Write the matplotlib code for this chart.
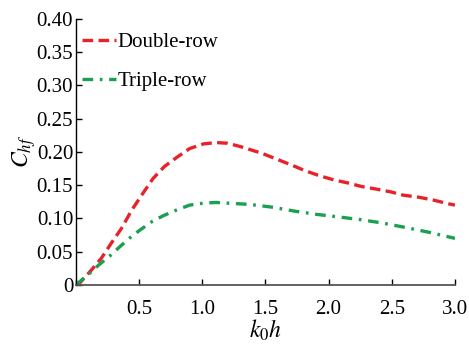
import matplotlib
matplotlib.use('Agg')
import matplotlib.pyplot as plt
import numpy as np

plt.rcParams['font.family'] = 'Liberation Serif'
plt.rcParams['mathtext.fontset'] = 'stix'

# values
x_double = [0.0, 0.03, 0.12, 0.2, 0.28, 0.36, 0.44, 0.52, 0.61, 0.70, 0.80, 0.90,
            1.01, 1.11, 1.2, 1.3, 1.47, 1.59, 1.71, 1.81, 1.93, 2.04, 2.16, 2.26,
            2.38, 2.49, 2.59, 2.71, 2.82, 2.95, 3.0]
c_double = [0.0, 0.003, 0.022, 0.040, 0.063, 0.085, 0.112, 0.135, 0.160, 0.178,
            0.192, 0.205, 0.212, 0.214, 0.213, 0.208, 0.198, 0.189, 0.180, 0.172,
            0.164, 0.158, 0.153, 0.148, 0.144, 0.140, 0.135, 0.132, 0.128, 0.122, 0.120]

x_triple = [0.0, 0.03, 0.11, 0.18, 0.27, 0.35, 0.44, 0.51, 0.60, 0.69, 0.80, 0.90,
            1.01, 1.11, 1.2, 1.38, 1.55, 1.73, 1.91, 2.09, 2.26, 2.43, 2.62, 2.80,
            2.98, 3.0]
c_triple = [0.0, 0.005, 0.018, 0.030, 0.044, 0.058, 0.073, 0.083, 0.095, 0.104,
            0.113, 0.120, 0.123, 0.124, 0.123, 0.121, 0.117, 0.111, 0.106, 0.102,
            0.098, 0.093, 0.086, 0.079, 0.071, 0.070]

fig = plt.figure(figsize=(4.69, 3.44), dpi=100)
ax = fig.add_axes([0.162, 0.1715, 0.808, 0.774])

ax.plot(x_double, c_double, color='#e8222a', lw=2.4, dashes=(3.2, 1.6), label='Double-row')
ax.plot(x_triple, c_triple, color='#1aa050', lw=2.4, dashes=(3.2, 2, 0.8, 2), label='Triple-row')

ax.set_xlim(0, 3.0)
ax.set_ylim(0, 0.40)
ax.set_xticks([0, 0.5, 1.0, 1.5, 2.0, 2.5, 3.0])
ax.set_xticklabels(['', '0.5', '1.0', '1.5', '2.0', '2.5', '3.0'])
ax.set_yticks(np.arange(0, 0.41, 0.05))
ax.set_yticklabels(['0'] + ['%.2f' % v for v in np.arange(0.05, 0.41, 0.05)])
ax.tick_params(direction='in', length=4, width=1, labelsize=15)
ax.tick_params(axis='x', pad=11)
ax.tick_params(axis='y', pad=2)
ax.spines['top'].set_visible(False)
ax.spines['right'].set_visible(False)
ax.spines['bottom'].set_color('#555555')
ax.spines['bottom'].set_linewidth(1.3)
ax.spines['left'].set_linewidth(1.0)

ax.set_xlabel('$k_0h$', fontsize=17, labelpad=-1)
ax.set_ylabel('$C_{hf}$', fontsize=17, labelpad=-1)

ax.legend(loc='upper left', bbox_to_anchor=(-0.005, 0.98), frameon=False,
          fontsize=15, handlelength=1.6, handletextpad=0.1, labelspacing=0.95,
          borderaxespad=0.1, borderpad=0.3)

fig.savefig('out.png', dpi=100)
